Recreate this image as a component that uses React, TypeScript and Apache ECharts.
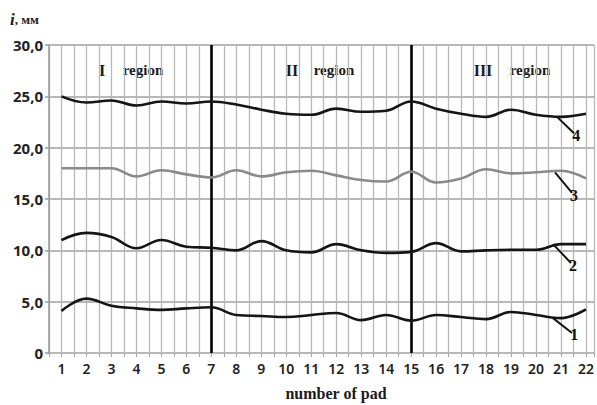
import React, { useEffect, useRef } from "react";
import * as echarts from "echarts";

const pads = [1, 2, 3, 4, 5, 6, 7, 8, 9, 10, 11, 12, 13, 14, 15, 16, 17, 18, 19, 20, 21, 22];
const curve1 = [4.1, 5.3, 4.6, 4.35, 4.2, 4.35, 4.45, 3.7, 3.6, 3.5, 3.7, 3.9, 3.2, 3.7, 3.15, 3.7, 3.5, 3.3, 4.0, 3.7, 3.4, 4.25];
const curve2 = [11.0, 11.7, 11.3, 10.2, 11.0, 10.35, 10.25, 10.0, 10.9, 10.0, 9.8, 10.6, 10.0, 9.75, 9.85, 10.7, 9.9, 10.0, 10.05, 10.05, 10.6, 10.6];
const curve3 = [18.0, 18.0, 18.0, 17.2, 17.8, 17.4, 17.1, 17.8, 17.2, 17.6, 17.75, 17.3, 16.85, 16.7, 17.65, 16.6, 17.0, 17.9, 17.5, 17.6, 17.75, 17.0];
const curve4 = [25.0, 24.4, 24.6, 24.1, 24.5, 24.3, 24.5, 24.2, 23.7, 23.3, 23.2, 23.8, 23.5, 23.6, 24.5, 23.8, 23.3, 23.0, 23.7, 23.2, 23.0, 23.3];
const regionBounds = [7, 15];
const curveNames = ["1", "2", "3", "4"];
const leaders = [
  [[20.68, 3.4], [21.44, 1.95]],
  [[20.68, 10.6], [21.4, 8.76]],
  [[20.76, 17.6], [21.44, 15.6]],
  [[20.84, 23.0], [21.52, 21.4]],
];

export default function App() {
  const ref = useRef<HTMLDivElement>(null);
  useEffect(() => {
    const chart = echarts.init(ref.current!, null, { renderer: "svg" });
    const curves = [curve1, curve2, curve3, curve4];
    const colors = ["#151515", "#151515", "#8a8a8a", "#151515"];
    const series: any[] = curves.map((c, i) => ({
      type: "line",
      name: curveNames[i],
      data: c.map((v, j) => [pads[j], v]),
      smooth: 0.4,
      showSymbol: false,
      lineStyle: { color: colors[i], width: 2.6 },
      z: 5,
    }));
    series.push({
      type: "line",
      data: [],
      color: "#111",
      markLine: {
        silent: true,
        symbol: "none",
        lineStyle: { color: "#151515", width: 2, type: "solid" },
        label: {
          show: true,
          position: "end",
          fontFamily: "Liberation Serif",
          fontSize: 16,
          fontWeight: "bold",
          color: "#111",
          distance: 3,
        },
        data: leaders.map((l, i) => [
          { coord: l[0], label: { formatter: curveNames[i] } },
          { coord: l[1] },
        ]),
      },
      z: 6,
    });
    series.push({
      type: "line",
      data: [],
      markLine: {
        silent: true,
        symbol: "none",
        label: { show: false },
        lineStyle: { color: "#000", width: 2.6, type: "solid" },
        data: regionBounds.map((x) => ({ xAxis: x })),
      },
      z: 6,
    });
    const serif = "Liberation Serif";
    const regText = (x: number, text: string, size: number) => ({
      type: "text",
      x,
      y: 70,
      style: { text, fontFamily: serif, fontWeight: "bold", fontSize: size, fill: "#1a1a1a", align: "center", verticalAlign: "middle" },
    });
    chart.setOption({
      animation: false,
      grid: { left: 49, right: 0, top: 45, bottom: 52 },
      xAxis: {
        type: "value",
        min: 0.5,
        max: 22.32,
        interval: 0.5,
        axisLine: { show: false },
        axisTick: { show: true, length: 4, lineStyle: { color: "#a8a8a8" } },
        splitLine: { show: true, lineStyle: { color: "#b8b8b8", width: 1.3 } },
        axisLabel: {
          formatter: (v: number) => (Number.isInteger(v) && v >= 1 && v <= 22 ? String(v) : ""),
          fontFamily: "Noto Sans",
          fontWeight: 600,
          fontSize: 14,
          color: "#222",
          margin: 8,
          showMinLabel: true,
          showMaxLabel: true,
        },
      },
      yAxis: {
        type: "value",
        min: 0,
        max: 30,
        interval: 5,
        axisLine: { show: true, lineStyle: { color: "#9a9a9a", width: 1.5 } },
        axisTick: { show: true, length: 4, lineStyle: { color: "#9a9a9a", width: 1.5 } },
        splitLine: { show: true, lineStyle: { color: "#a0a0a0", width: 1.6 } },
        axisLabel: {
          formatter: (v: number) => (v === 0 ? "0" : v.toFixed(1).replace(".", ",")),
          fontFamily: "Noto Sans",
          fontWeight: "bold",
          fontSize: 15,
          color: "#222",
          margin: 6,
        },
      },
      series,
      graphic: [
        {
          type: "text",
          left: 10,
          top: 11,
          style: {
            text: "{i|i}{r|, мм}",
            rich: {
              i: { fontFamily: serif, fontStyle: "italic", fontWeight: "bold", fontSize: 17, fill: "#222" },
              r: { fontFamily: serif, fontWeight: "bold", fontSize: 13, fill: "#222" },
            },
          },
        },
        regText(102, "I", 16),
        regText(143, "region", 15),
        regText(292, "II", 16),
        regText(334, "region", 15),
        regText(483, "III", 16),
        regText(530, "region", 15),
        {
          type: "text",
          x: 336,
          y: 393,
          style: { text: "number of pad", fontFamily: serif, fontWeight: "bold", fontSize: 16, fill: "#1a1a1a", align: "center", verticalAlign: "middle" },
        },
      ],
    });
    return () => chart.dispose();
  }, []);
  return <div ref={ref} style={{ width: 597, height: 405, position: "absolute", left: 0, top: 0, background: "#fff" }} />;
}
